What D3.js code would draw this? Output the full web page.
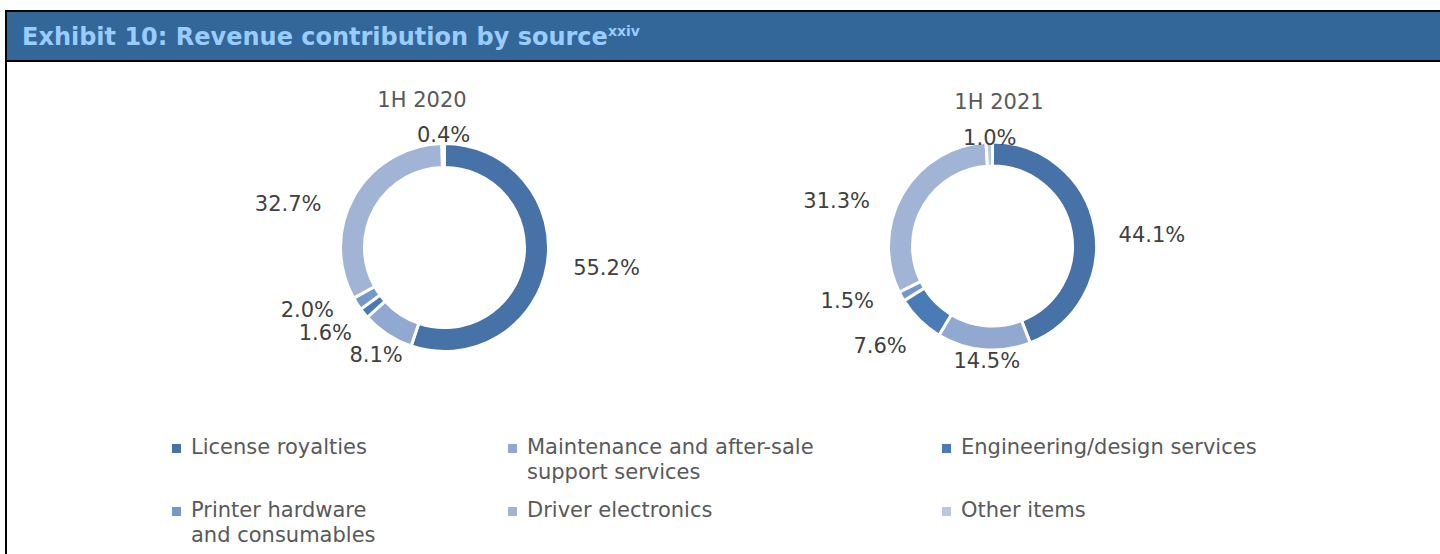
<!DOCTYPE html>
<html>
<head>
<meta charset="utf-8">
<script src="https://cdn.jsdelivr.net/npm/d3@7"></script>
<style>
  body { margin: 0; background: #fff; }
  svg { display: block; }
</style>
</head>
<body>
<svg id="chart" width="1440" height="554"></svg>
<script>
var categories = ["License royalties", "Maintenance and after-sale support services",
    "Engineering/design services", "Printer hardware and consumables",
    "Driver electronics", "Other items"];
var legendLines = [["License royalties"], ["Maintenance and after-sale", "support services"],
    ["Engineering/design services"], ["Printer hardware", "and consumables"],
    ["Driver electronics"], ["Other items"]];
var periods = ["1H 2020", "1H 2021"];
var values2020 = [55.2, 8.1, 1.6, 2.0, 32.7, 0.4];
var values2021 = [44.1, 14.5, 7.6, 1.5, 31.3, 1.0];
var colors = ["#4672a7", "#91a8d0", "#4a7bb7", "#7598c9", "#a1b4d6", "#b9c8e1"];

// layout (pixels)
var donuts = [
    { values: values2020, cx: 444.5, cy: 247.5, titleX: 422, titleY: 107,
      nudge: [[14, -4], [14, -18], [-3, -10], [-11, -19], [-26, 30], [1, 37]] },
    { values: values2021, cx: 992.5, cy: 246, titleX: 999, titleY: 109,
      nudge: [[12, 16], [7, -35], [-7, -7], [-14, -18], [-26, 30], [2, 41]] }
];

var svg = d3.select("#chart");

// header bar
svg.append("rect")
    .attr("x", 6).attr("y", 11)
    .attr("width", 1440).attr("height", 50)
    .attr("fill", "#336699")
    .attr("stroke", "#000").attr("stroke-width", 2);
svg.append("line")
    .attr("x1", 6).attr("x2", 6).attr("y1", 11).attr("y2", 554)
    .attr("stroke", "#000").attr("stroke-width", 2);

var title = svg.append("text")
    .attr("x", 22).attr("y", 45)
    .style("font-family", "'DejaVu Sans', Verdana, sans-serif")
    .style("font-weight", "bold")
    .style("font-size", "24px")
    .attr("fill", "#99ccff")
    .text("Exhibit 10: Revenue contribution by source");
title.append("tspan")
    .attr("dy", -9)
    .style("font-size", "14px")
    .text("xxiv");

var pie = d3.pie().sort(null).value(function (d) { return d; });
var arc = d3.arc().innerRadius(80).outerRadius(104);
var labelArc = d3.arc().innerRadius(150).outerRadius(150);
var fmt = d3.format(".1f");

donuts.forEach(function (dn, i) {
    var g = svg.append("g")
        .attr("transform", "translate(" + dn.cx + "," + dn.cy + ")");

    var slices = pie(dn.values);

    g.selectAll("path")
        .data(slices)
        .enter().append("path")
        .attr("d", arc)
        .attr("fill", function (d, j) { return colors[j]; })
        .attr("stroke", "#fff")
        .attr("stroke-width", 3);

    g.selectAll("text.lbl")
        .data(slices)
        .enter().append("text")
        .attr("class", "lbl")
        .attr("transform", function (d, j) {
            var c = labelArc.centroid(d);
            return "translate(" + (c[0] + dn.nudge[j][0]) + "," + (c[1] + dn.nudge[j][1]) + ")";
        })
        .attr("dy", "0.36em")
        .style("text-anchor", "middle")
        .style("font-family", "'DejaVu Sans', Verdana, sans-serif")
        .style("font-size", "21px")
        .attr("fill", "#404040")
        .text(function (d) { return fmt(d.data) + "%"; });

    svg.append("text")
        .attr("x", dn.titleX).attr("y", dn.titleY)
        .style("text-anchor", "middle")
        .style("font-family", "'DejaVu Sans', Verdana, sans-serif")
        .style("font-size", "21px")
        .attr("fill", "#595959")
        .text(periods[i]);
});

// legend, 3 columns x 2 rows
var legX = [172, 508, 942];
var legY = [444, 507];
var leg = svg.selectAll("g.leg")
    .data(categories)
    .enter().append("g")
    .attr("class", "leg")
    .attr("transform", function (d, i) {
        return "translate(" + legX[i % 3] + "," + legY[Math.floor(i / 3)] + ")";
    });

leg.append("rect")
    .attr("width", 9).attr("height", 9)
    .attr("fill", function (d, i) { return colors[i]; });

leg.append("text")
    .attr("x", 19).attr("y", 10)
    .style("font-family", "'DejaVu Sans', Verdana, sans-serif")
    .style("font-size", "21px")
    .attr("fill", "#595959")
    .selectAll("tspan")
    .data(function (d, i) { return legendLines[i]; })
    .enter().append("tspan")
    .attr("x", 19)
    .attr("dy", function (d, k) { return k === 0 ? 0 : 25; })
    .text(function (d) { return d; });
</script>
</body>
</html>
